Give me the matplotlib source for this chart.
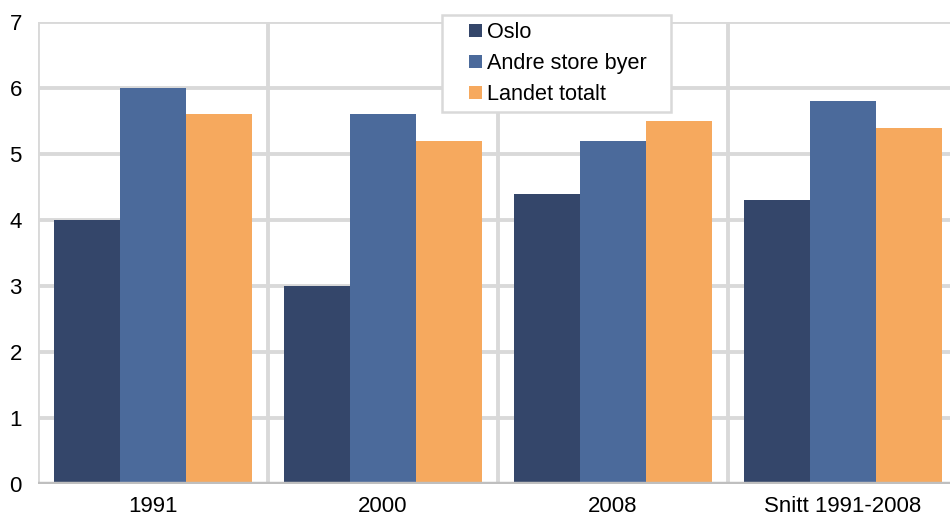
import numpy as np
import matplotlib.pyplot as plt
from matplotlib.patches import Rectangle
from matplotlib.container import BarContainer
from matplotlib.legend_handler import HandlerPatch

categories = ["1991", "2000", "2008", "Snitt 1991-2008"]
oslo = [4.0, 3.0, 4.4, 4.3]
andre_store_byer = [6.0, 5.6, 5.2, 5.8]
landet_totalt = [5.6, 5.2, 5.5, 5.4]

series = [
    ("Oslo", oslo, "#34466a"),
    ("Andre store byer", andre_store_byer, "#4b6a9b"),
    ("Landet totalt", landet_totalt, "#f6a95e"),
]

plt.rcParams['font.family'] = ['Liberation Sans', 'DejaVu Sans']


def square_at_right(legend, orig_handle, xdescent, ydescent, width, height, fontsize):
    # small square marker pushed to the right end of the handle box
    side = 9.4
    return Rectangle((width - side - xdescent, (height - side) / 2 - ydescent), side, side)


def copy_first_bar(legend_handle, orig_handle):
    legend_handle.update_from(orig_handle[0])


fig = plt.figure(figsize=(9.5, 5.17), dpi=100)
ax = fig.add_axes([38 / 950, 33 / 517, 920 / 950, 462 / 517])

x = np.arange(len(categories))
width = 0.287
for i, (name, vals, color) in enumerate(series):
    ax.bar(x + (i - 1) * width, vals, width, color=color, label=name, zorder=3)

# grid lines: horizontal at each unit, vertical between groups
grid_color = "#d9d9d9"
for yv in range(1, 8):
    ax.axhline(yv, color=grid_color, linewidth=2.8, zorder=1)
for xv in np.arange(-0.5, len(categories) + 0.5, 1.0):
    ax.axvline(xv, color=grid_color, linewidth=2.8, zorder=1)
ax.axhline(0, color="#bfbfbf", linewidth=3.2, zorder=4)

ax.set_xlim(-0.5, len(categories) - 0.5)
ax.set_ylim(0, 7)
ax.set_yticks(range(0, 8))
ax.set_xticks(x)
ax.set_xticklabels(categories)
ax.tick_params(axis='both', length=0, labelsize=16, colors="black")
ax.tick_params(axis='y', pad=20.5)
ax.tick_params(axis='x', pad=9)
for lab in ax.get_yticklabels():
    lab.set_horizontalalignment('left')
for s in ax.spines.values():
    s.set_visible(False)

# legend box drawn separately (wider right margin than matplotlib's padding)
frame = Rectangle((442 / 950, 1 - 112 / 517), 229 / 950, 97 / 517, transform=fig.transFigure,
                  facecolor="white", edgecolor=grid_color, linewidth=1.8, zorder=4.5,
                  clip_on=False)
ax.add_patch(frame)

leg = ax.legend(loc='upper left', bbox_to_anchor=(404 / 920, 1.016), frameon=False,
                fontsize=15.6, handlelength=1.5, handleheight=0.7,
                handletextpad=0.22, labelspacing=0.45, borderpad=0.35,
                borderaxespad=0,
                handler_map={BarContainer: HandlerPatch(patch_func=square_at_right,
                                                        update_func=copy_first_bar)})
leg.set_zorder(5)

fig.savefig("out.png", dpi=100)
